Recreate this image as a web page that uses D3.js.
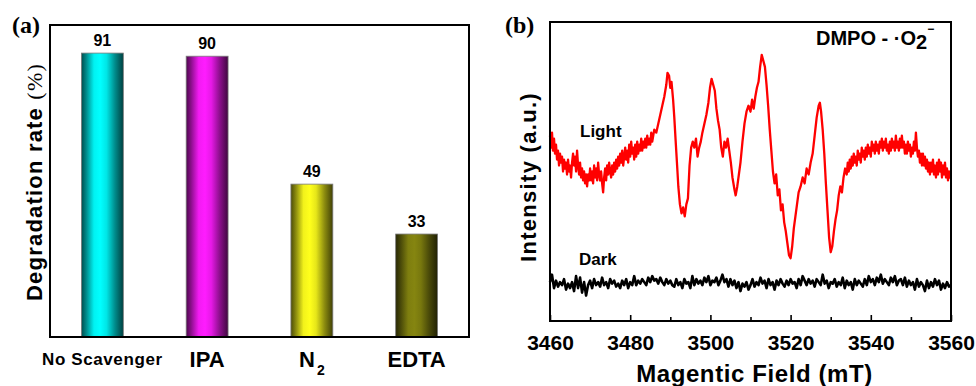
<!DOCTYPE html>
<html><head><meta charset="utf-8">
<script src="https://cdn.jsdelivr.net/npm/d3@7"></script>
<style>body{margin:0;background:#fff}svg{display:block}</style>
</head><body>
<svg id="c" width="976" height="386"></svg>
<script>
// ---- Panel (a) data ----
const categories = ["No Scavenger", "IPA", "N2", "EDTA"];
const rates = [91, 90, 49, 33];
const barColors = ["#00ffff", "#ff1cff", "#ffff1c", "#858510"];

// ---- Panel (b) data ----
const xTicks = [3460, 3480, 3500, 3520, 3540, 3560];
const lightSpectrum = [
[3460,62],[3460.25,58],[3460.5,63],[3460.75,57],[3461,61],[3461.25,56],[3461.5,59],[3461.75,54],[3462,57],[3462.25,52],
[3462.5,56],[3462.75,53],[3463,55],[3463.25,50],[3463.5,54],[3463.75,51],[3464,53],[3464.25,49],[3464.5,54],[3464.75,50],
[3465,52],[3465.25,48],[3465.5,53],[3465.75,56],[3466,52],[3466.25,55],[3466.5,50],[3466.75,57],[3467,52],[3467.25,49],
[3467.5,53],[3467.75,48],[3468,51],[3468.25,47],[3468.5,50],[3468.75,46],[3469,49],[3469.25,45],[3469.5,49],[3469.75,47],
[3470,51],[3470.25,47],[3470.5,50],[3470.75,46],[3471,52],[3471.25,48],[3471.5,51],[3471.75,47],[3472,53],[3472.25,49],
[3472.5,47],[3472.75,50],[3473,46],[3473.25,43],[3473.5,48],[3473.75,51],[3474,47],[3474.25,52],[3474.5,49],[3474.75,53],
[3475,50],[3475.25,48],[3475.5,52],[3475.75,49],[3476,53],[3476.25,50],[3476.5,54],[3476.75,51],[3477,55],[3477.25,52],
[3477.5,56],[3477.75,53],[3478,57],[3478.25,52],[3478.5,55],[3478.75,58],[3479,54],[3479.25,57],[3479.5,53],[3479.75,59],
[3480,55],[3480.25,60],[3480.5,56],[3480.75,58],[3481,54],[3481.25,59],[3481.5,55],[3481.75,60],[3482,56],[3482.25,59],
[3482.5,57],[3482.75,61],[3483,57],[3483.25,60],[3483.5,58],[3483.75,61],[3484,58],[3484.25,62],[3484.5,59],[3484.75,61],
[3485,59],[3485.25,63],[3485.5,60],[3485.75,62],[3486,64],[3486.5,63],[3487,66],[3487.5,69],[3488,72],[3488.5,75],[3489,79],[3489.3,83],
[3489.7,82],[3490,78],[3490.3,80],[3490.7,74],[3491,68],[3491.3,61],[3491.7,52],[3492,45],[3492.4,39],[3492.8,36],
[3493.2,38],[3493.6,35],[3494,39],[3494.4,41],[3494.8,52],[3495.2,58],[3495.6,60],[3496,58],[3496.4,61],[3496.8,55],
[3497.2,58],[3497.6,60],[3498,63],[3498.5,66],[3499,69],[3499.5,73],[3499.9,78],[3500.3,81],[3500.7,79],[3501.1,77],
[3501.5,71],[3501.9,67],[3502.3,64],[3502.7,58],[3503.1,55],[3503.5,60],[3503.9,58],[3504.3,61],[3504.7,57],[3505.1,53],
[3505.5,48],[3506,44],[3506.3,42],[3506.7,45],[3507.1,49],[3507.5,53],[3508,60],[3508.5,66],[3509,70],[3509.5,72],
[3510,70],[3510.4,74],[3510.8,71],[3511.2,75],[3511.6,78],[3512,80],[3512.4,85],[3512.8,89],[3513.2,87],[3513.6,85],
[3514,79],[3514.4,72],[3514.8,64],[3515.2,57],[3515.6,50],[3516,46],[3516.4,49],[3516.8,42],[3517.2,44],[3517.6,37],
[3518,39],[3518.4,33],[3518.8,30],[3519.2,26],[3519.6,22],[3520,21],[3520.4,25],[3520.8,31],[3521.2,35],[3521.6,39],
[3522,43],[3522.5,45],[3523,48],[3523.5,46],[3524,51],[3524.5,49],[3525,53],[3525.5,56],[3526,62],[3526.5,68],
[3527,72],[3527.3,73],[3527.6,70],[3528,64],[3528.4,56],[3528.8,46],[3529.2,37],[3529.6,28],[3530,23],[3530.4,25],
[3530.8,30],[3531.2,34],[3531.6,37],[3532,42],[3532.4,45],[3532.8,43],[3533.2,48],[3533.6,51],
[3534,49],[3534.25,53],[3534.5,50],[3534.75,54],[3535,51],[3535.25,55],[3535.5,52],[3535.75,56],[3536,53],[3536.25,55],
[3536.5,52],[3536.75,57],[3537,54],[3537.25,56],[3537.5,53],[3537.75,58],[3538,55],[3538.25,57],[3538.5,54],[3538.75,58],
[3539,55],[3539.25,59],[3539.5,56],[3539.75,58],[3540,55],[3540.25,60],[3540.5,57],[3540.75,59],[3541,56],[3541.25,60],
[3541.5,57],[3541.75,59],[3542,56],[3542.25,60],[3542.5,58],[3542.75,61],[3543,57],[3543.25,60],[3543.5,58],[3543.75,61],
[3544,57],[3544.25,59],[3544.5,56],[3544.75,60],[3545,57],[3545.25,61],[3545.5,58],[3545.75,60],[3546,57],[3546.25,62],
[3546.5,58],[3546.75,60],[3547,57],[3547.25,61],[3547.5,58],[3547.75,62],[3548,58],[3548.25,60],[3548.5,56],[3548.75,59],
[3549,56],[3549.25,60],[3549.5,57],[3549.75,59],[3550,55],[3550.25,58],[3550.5,56],[3550.75,60],[3551,57],[3551.25,63],
[3551.5,58],[3551.75,55],[3552,57],[3552.25,53],[3552.5,56],[3552.75,52],[3553,56],[3553.25,52],[3553.5,55],[3553.75,51],
[3554,54],[3554.25,50],[3554.5,53],[3554.75,49],[3555,53],[3555.25,50],[3555.5,54],[3555.75,49],[3556,52],[3556.25,48],
[3556.5,53],[3556.75,49],[3557,54],[3557.25,50],[3557.5,53],[3557.75,48],[3558,52],[3558.25,49],[3558.5,53],[3558.75,48],
[3559,51],[3559.25,47],[3559.5,50],[3559.75,48],[3560,50]
];
const darkStart = 3460, darkStep = 0.5;
const darkValues = [
13,15.5,11,13.5,11.5,13,12,14,10.5,12.5,11,13,10,15,11,14.5,9.5,13,8.5,12,
13.5,11,14,12,13,11.5,14.5,12,13,11,14,12.5,13.5,11.5,12.5,11,13.5,12,14,11,
13,12,15,12,13.5,12.5,14,13,12,14.5,13,15,13.5,14,12.5,14.5,13,12,14,12.5,
13.5,12,11.5,14,12,13,11,14,12.5,13,11,15,12,14,12.5,13.5,12,14.5,13,15,
12,13.5,13,14.5,12,13.5,15.5,13,14,11.5,14,12,13.5,11,13,10,12.5,11.5,13,10.5,
12,14,11.5,13,12,14.5,12.5,13.5,11,14,12,13,10.5,13.5,12,14,12.5,11.5,13.5,12,
14,12.5,13,11,14,12,15,13.5,12,14,12.5,13.5,11.5,14,13,12,15.5,12.5,13.5,11,
13,12.5,14,11.5,13,12,14.5,11,13.5,12,13,10.5,14,12,13.5,12.5,11.5,14,12,15,
13,14,12,14.5,13,15.5,12.5,14,13,12,14.5,13,15,12,13.5,14,12,14.5,11.5,13.5,
12,13,10.5,14,11.5,13,12,10,13.5,11,13,11.5,14,12,13.5,10.5,12.5,11,13,11.5,12
];
const darkSpectrum = darkValues.map((v, i) => [darkStart + i * darkStep, v]);

const svg = d3.select("#c");
const sans = "'Liberation Sans', Arial, sans-serif";
const serif = "'Liberation Serif', 'Times New Roman', serif";

// ================= Panel (a) =================
const A = {l: 50, t: 25, r: 469, b: 337};
const xa = d3.scaleBand().domain(categories).range([A.l, A.r]).paddingInner(0.6).paddingOuter(0.3);
const ya = d3.scaleLinear().domain([0, 100]).range([A.b, A.t]);

const defs = svg.append("defs");
barColors.forEach((c, i) => {
  const g = defs.append("linearGradient").attr("id", "g" + i).attr("x1", 0).attr("x2", 1).attr("y1", 0).attr("y2", 0);
  const dark = d3.interpolateRgb(c, "#000");
  const stops = [[0, dark(0.7)], [0.12, dark(0.45)], [0.3, dark(0.05)], [0.45, c], [0.6, dark(0.1)], [0.8, dark(0.45)], [1, dark(0.75)]];
  stops.forEach(s => g.append("stop").attr("offset", s[0]).attr("stop-color", s[1]));
});

svg.append("g").selectAll("rect").data(categories).join("rect")
  .attr("x", d => xa(d)).attr("width", xa.bandwidth())
  .attr("y", (d, i) => ya(rates[i])).attr("height", (d, i) => ya(0) - ya(rates[i]))
  .attr("fill", (d, i) => `url(#g${i})`).attr("stroke", "#7a7a7a").attr("stroke-width", 0.8);

svg.append("g").selectAll("text").data(categories).join("text")
  .attr("x", d => xa(d) + xa.bandwidth() / 2).attr("y", (d, i) => ya(rates[i]) - 7)
  .attr("text-anchor", "middle").attr("font-family", sans).attr("font-weight", "bold").attr("font-size", 16)
  .text((d, i) => rates[i]);

svg.append("rect").attr("x", A.l).attr("y", A.t).attr("width", A.r - A.l).attr("height", A.b - A.t)
  .attr("fill", "none").attr("stroke", "#000").attr("stroke-width", 2);

// category labels
const catG = svg.append("g").attr("font-family", sans).attr("font-weight", "bold").attr("text-anchor", "middle");
categories.forEach((c, i) => {
  const cx = xa(c) + xa.bandwidth() / 2;
  if (c === "No Scavenger") {
    catG.append("text").attr("x", cx).attr("y", 365).attr("font-size", 17).attr("letter-spacing", 0.6).text(c);
  } else if (c === "N2") {
    const t = catG.append("text").attr("x", cx).attr("y", 367).attr("font-size", 22);
    t.append("tspan").text("N");
    t.append("tspan").attr("font-size", 14).attr("dx", 2).attr("dy", 8).text("2");
  } else {
    catG.append("text").attr("x", cx).attr("y", 367).attr("font-size", 22).text(c);
  }
});

// y label
const yl = svg.append("text").attr("transform", "translate(42,182) rotate(-90)")
  .attr("text-anchor", "middle").attr("font-family", sans).attr("font-weight", "bold").attr("font-size", 22)
  .attr("letter-spacing", 1.2);
yl.append("tspan").text("Degradation rate ");
yl.append("tspan").attr("font-family", serif).attr("font-weight", "normal").text("(%)");

svg.append("text").attr("x", 12).attr("y", 33).attr("font-family", serif).attr("font-weight", "bold").attr("font-size", 24).text("(a)");

// ================= Panel (b) =================
const B = {l: 550, t: 22, r: 951, b: 321};
const xb = d3.scaleLinear().domain([3460, 3560]).range([B.l, B.r]);
const yb = d3.scaleLinear().domain([0, 100]).range([B.b, B.t]);

const line = d3.line().x(d => xb(d[0])).y(d => yb(d[1]));
svg.append("path").datum(darkSpectrum).attr("d", line).attr("fill", "none").attr("stroke", "#000").attr("stroke-width", 2.6).attr("stroke-linejoin", "round");
svg.append("path").datum(lightSpectrum).attr("d", line).attr("fill", "none").attr("stroke", "#ff0000").attr("stroke-width", 2.3).attr("stroke-linejoin", "round");

svg.append("rect").attr("x", B.l).attr("y", B.t).attr("width", B.r - B.l).attr("height", B.b - B.t)
  .attr("fill", "none").attr("stroke", "#000").attr("stroke-width", 2);

// ticks inward
const axB = d3.axisBottom(xb).tickValues(xTicks).tickSize(-6).tickPadding(14).tickFormat(d3.format("d"));
const axG = svg.append("g").attr("transform", `translate(0,${B.b})`).call(axB);
axG.select(".domain").remove();
axG.selectAll("line").attr("stroke", "#000").attr("stroke-width", 1.6);
axG.selectAll("text").attr("font-family", sans).attr("font-weight", "bold").attr("font-size", 21).attr("fill", "#000").attr("dy", "0.71em");
const minorAx = d3.axisBottom(xb).tickValues([3470, 3490, 3510, 3530, 3550]).tickSize(-4).tickFormat("");
const mG = svg.append("g").attr("transform", `translate(0,${B.b})`).call(minorAx);
mG.select(".domain").remove();
mG.selectAll("line").attr("stroke", "#000").attr("stroke-width", 1.6);

svg.append("text").attr("x", (B.l + B.r) / 2 + 4).attr("y", 382).attr("text-anchor", "middle")
  .attr("font-family", sans).attr("font-weight", "bold").attr("font-size", 24).attr("letter-spacing", 0.6)
  .text("Magentic Field (mT)");

svg.append("text").attr("transform", "translate(536,177) rotate(-90)").attr("text-anchor", "middle")
  .attr("font-family", sans).attr("font-weight", "bold").attr("font-size", 22).attr("letter-spacing", 1.3)
  .text("Intensity (a.u.)");

svg.append("text").attr("x", 505).attr("y", 33).attr("font-family", serif).attr("font-weight", "bold").attr("font-size", 24).text("(b)");

const tt = svg.append("text").attr("x", 816).attr("y", 45).attr("font-family", sans).attr("font-weight", "bold").attr("font-size", 20);
tt.append("tspan").text("DMPO - ·O");
tt.append("tspan").attr("dy", 4).attr("font-size", 20).text("2");
tt.append("tspan").attr("dy", -16).attr("font-size", 12).text("−");

svg.append("text").attr("x", 580).attr("y", 137).attr("font-family", sans).attr("font-weight", "bold").attr("font-size", 17).text("Light");
svg.append("text").attr("x", 579).attr("y", 265).attr("font-family", sans).attr("font-weight", "bold").attr("font-size", 17).text("Dark");
</script>
</body></html>
